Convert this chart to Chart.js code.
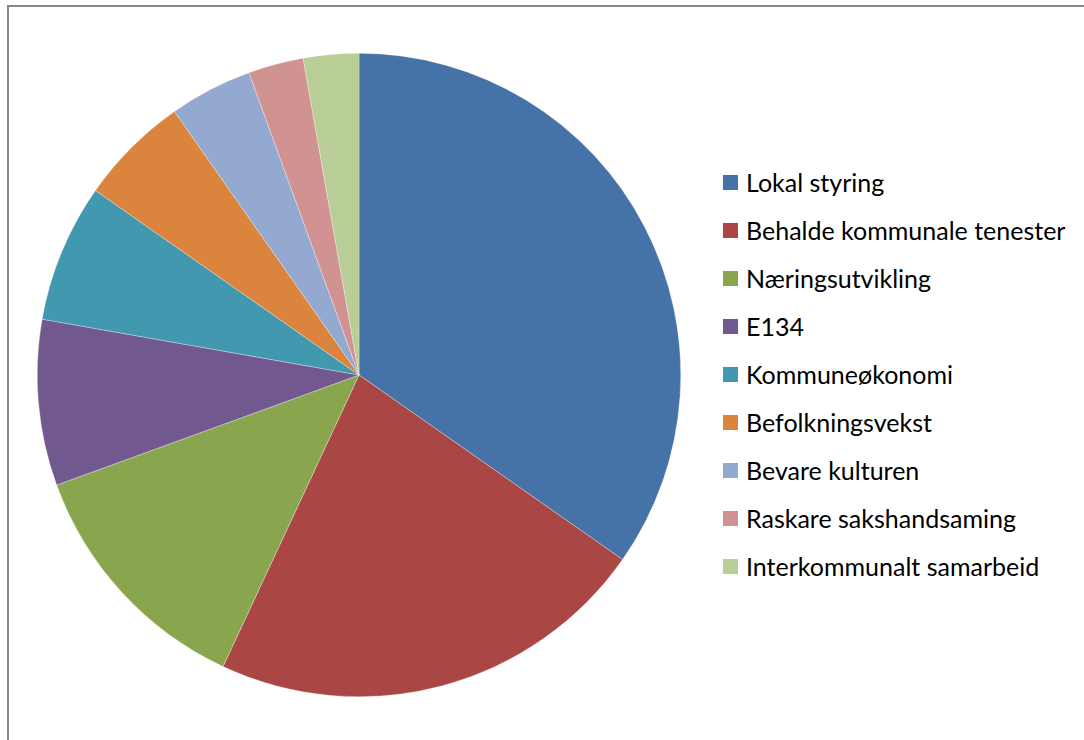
<!DOCTYPE html>
<html><head><meta charset="utf-8">
<script src="https://cdn.jsdelivr.net/npm/chart.js@4/dist/chart.umd.min.js"></script>
<style>
html,body{margin:0;padding:0;background:#fff;width:1084px;height:740px;overflow:hidden;}
#frame{position:absolute;left:7px;top:5px;width:1100px;height:760px;border-left:2px solid #878787;border-top:2px solid #878787;}
#wrap{position:absolute;left:37px;top:53px;width:644px;height:644px;}
#legend{position:absolute;left:723px;top:158px;font-family:Lato,"Open Sans",sans-serif;font-size:25px;color:#000;}
.item{height:48px;display:flex;align-items:center;}
.box{width:15px;height:15px;margin-right:8px;flex:none;}
</style></head>
<body>
<div id="frame"></div>
<div id="wrap"><canvas id="c" width="644" height="644"></canvas></div>
<div id="legend"></div>
<script>
const categories = ["Lokal styring","Behalde kommunale tenester","Næringsutvikling","E134","Kommuneøkonomi","Befolkningsvekst","Bevare kulturen","Raskare sakshandsaming","Interkommunalt samarbeid"];
const values = [25,16,9,6,5,4,3,2,2];
const colors = ["#4572A7","#AA4643","#89A54E","#71588F","#4198AF","#DB843D","#93A9CF","#D19392","#B9CD96"];

new Chart(document.getElementById('c'), {
  type: 'pie',
  data: { labels: categories, datasets: [{ data: values, backgroundColor: colors, borderColor: 'rgba(255,255,255,0.6)', borderWidth: 0.5 }] },
  options: {
    responsive: false, animation: false,
    layout: { padding: 0 },
    plugins: { legend: { display: false }, tooltip: { enabled: false } }
  }
});
const lg = document.getElementById('legend');
categories.forEach((c,i)=>{
  const d=document.createElement('div'); d.className='item';
  const b=document.createElement('span'); b.className='box'; b.style.background=colors[i];
  const t=document.createElement('span'); t.textContent=c;
  d.appendChild(b); d.appendChild(t); lg.appendChild(d);
});
</script>
</body></html>
